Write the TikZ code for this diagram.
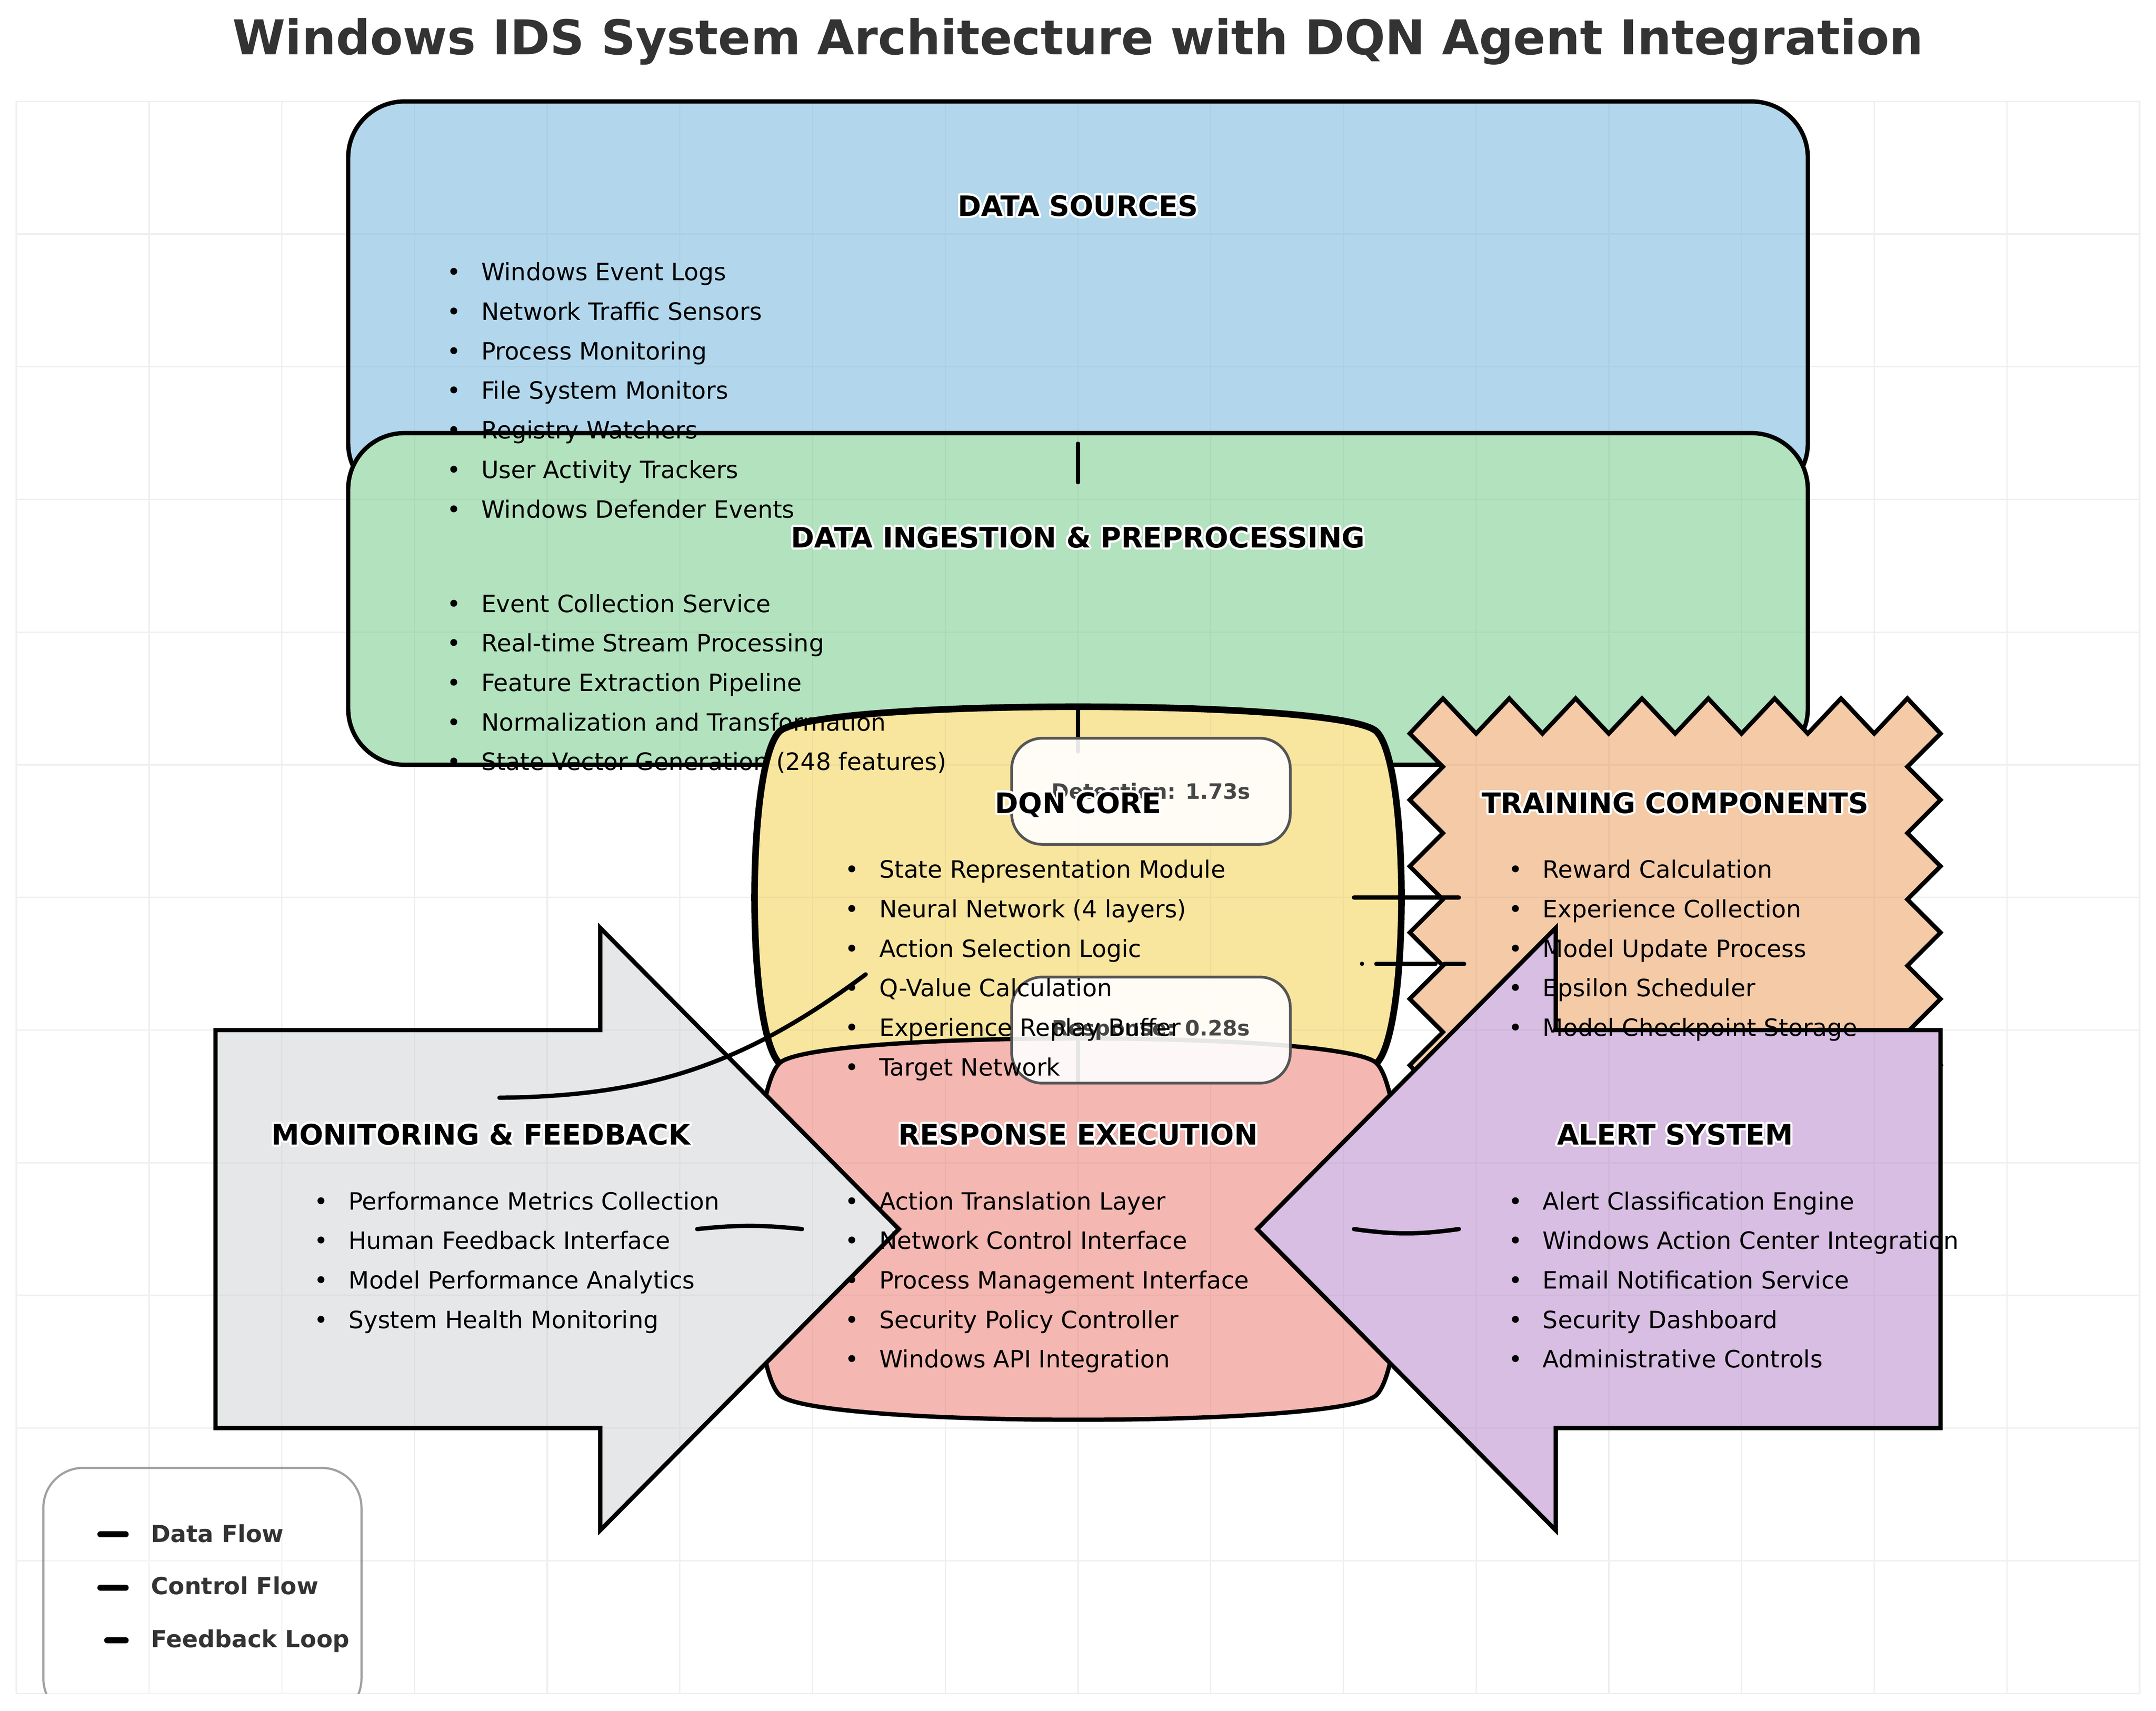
\documentclass[tikz,border=0pt]{standalone}
\usepackage{fontspec}
\setmainfont{DejaVu Sans}
\usepackage{contour}
\contourlength{1.2pt}
\contournumber{32}
\definecolor{dsblue}{HTML}{B2D7EC}
\definecolor{ingreen}{HTML}{B3E2BE}
\definecolor{coreyellow}{HTML}{F8E59E}
\definecolor{trainpeach}{HTML}{F4CAA7}
\definecolor{resppink}{HTML}{F4B7B1}
\definecolor{monigray}{HTML}{E6E7E9}
\definecolor{alertpurple}{HTML}{D7BEE2}
\definecolor{titlegray}{HTML}{333333}
\definecolor{labelgray}{HTML}{464646}
\definecolor{labeledge}{HTML}{555555}
\definecolor{legendedge}{HTML}{A0A0A0}
\newcommand{\itembul}{\llap{\makebox[30.4pt]{•}}}
\tikzset{gridline/.style={draw=black!3,line width=0.8pt}}
\tikzset{boxedge/.style={draw=black,line width=2.4pt}}
\tikzset{coreedge/.style={boxedge,line width=3.7pt}}
\tikzset{flow/.style={line width=2.4pt,line cap=round}}
\tikzset{heading/.style={font=\fontsize{15.7}{18}\selectfont\bfseries,anchor=base,inner sep=0pt}}
\tikzset{item/.style={font=\fontsize{13.3}{16}\selectfont,anchor=base west,inner sep=0pt}}
\tikzset{timebox/.style={draw=labeledge,line width=1.5pt,fill=white,fill opacity=0.9,text opacity=1,rounded corners=0.6cm,minimum width=5.46cm,minimum height=2.08cm,inner sep=0pt,font=\fontsize{11.8}{14}\selectfont\bfseries,text=labelgray}}
\tikzset{legendbox/.style={draw=legendedge,line width=1.2pt,fill=white,fill opacity=0.8,rounded corners=0.78cm}}
\tikzset{legendline/.style={line width=3.4pt,line cap=round}}
\tikzset{legendtext/.style={font=\fontsize{13.1}{16}\selectfont\bfseries,text=titlegray,anchor=base west,inner sep=0pt}}

\begin{document}
\begin{tikzpicture}[x=2.6cm,y=2.6cm]
\useasboundingbox (-0.124,-0.13) rectangle (16.124,12.765);
% background grid
\draw[gridline] (0,0) grid[step=1] (16,12);
% legend frame, cut at the bottom of the axes
\begin{scope}
  \clip (-0.124,0) rectangle (16.124,12.765);
  \draw[legendbox] (0.203,-0.19) rectangle (2.6,1.7);
\end{scope}

\node[font=\fontsize{26.7}{30}\selectfont\bfseries,text=titlegray,anchor=base,inner sep=0pt] (title) at (8,12.355) {Windows IDS System Architecture with DQN Agent Integration};

% components
\draw[boxedge,fill=dsblue,rounded corners=1.1cm] (2.5,9.0) rectangle (13.5,12);
\draw[boxedge,fill=ingreen,rounded corners=1.1cm] (2.5,7.0) rectangle (13.5,9.5);
\draw[coreedge,fill=coreyellow] (5.75,4.75) .. controls (6,4.5) and (10,4.5) .. (10.25,4.75)
  .. controls (10.5,5) and (10.5,7) .. (10.25,7.25) .. controls (10,7.5) and (6,7.5) .. (5.75,7.25)
  .. controls (5.5,7) and (5.5,5) .. (5.75,4.75) -- cycle;
\draw[boxedge,fill=trainpeach] (10.5,7.235)
  \foreach \k in {0,...,7}{ -- ({10.75+0.5*\k},7.5) -- ({11+0.5*\k},7.235)}
  \foreach \k in {0,...,4}{ -- (14.25,{6.985-0.5*\k}) -- (14.5,{6.735-0.5*\k})}
  \foreach \k in {0,...,7}{ -- ({14.25-0.5*\k},4.47) -- ({14-0.5*\k},4.735)}
  \foreach \k in {0,...,4}{ -- (10.75,{4.985+0.5*\k}) -- (10.5,{5.235+0.5*\k})} -- cycle;
\draw[boxedge,fill=resppink] (5.75,2.25) .. controls (6,2) and (10,2) .. (10.25,2.25)
  .. controls (10.5,2.5) and (10.5,4.5) .. (10.25,4.75) .. controls (10,5) and (6,5) .. (5.75,4.75)
  .. controls (5.5,4.5) and (5.5,2.5) .. (5.75,2.25) -- cycle;
\draw[boxedge,fill=monigray] (1.5,2) -- (4.4,2) -- (4.4,1.23) -- (6.65,3.5) -- (4.4,5.77) -- (4.4,5) -- (1.5,5) -- cycle;
\draw[boxedge,fill=alertpurple] (14.5,2) -- (11.6,2) -- (11.6,1.23) -- (9.35,3.5) -- (11.6,5.77) -- (11.6,5) -- (14.5,5) -- cycle;
% faint grid seen through the boxes
\draw[gridline,draw=black,opacity=0.03] (0,0) grid[step=1] (16,12);

% connector ends
\coordinate (ds-out) at (8,9.42);
\coordinate (ing-in) at (8,9.13);
\coordinate (ing-out) at (8,7.43);
\coordinate (core-in) at (8,7.1);
\coordinate (core-out) at (8,4.92);
\coordinate (resp-in) at (8,4.61);
\coordinate (core-tr) at (10.08,6.0);
\coordinate (tr-in) at (10.87,6.0);
\coordinate (core-fb) at (10.14,5.5);
\coordinate (tr-out) at (10.91,5.5);
\coordinate (mon-fb) at (3.64,4.49);
\coordinate (core-q) at (6.40,5.42);
\coordinate (mon-out) at (5.13,3.5);
\coordinate (resp-west) at (5.92,3.5);
\coordinate (resp-east) at (10.08,3.5);
\coordinate (alert-in) at (10.87,3.5);

\draw[flow] (ds-out) -- (ing-in);
\draw[flow] (ing-out) -- (core-in);
\draw[flow] (core-out) -- (resp-in);
\draw[flow] (core-tr) -- (tr-in);
\draw[flow,dash pattern=on 0pt off 8pt on 33pt off 5pt on 14pt off 20pt] (core-fb) -- (tr-out);
\draw[flow] (mon-fb) to[bend right=18] (core-q);
\draw[flow] (mon-out) to[bend left=6] (resp-west);
\draw[flow] (resp-east) to[bend right=8] (alert-in);

% timing labels
\node[timebox] (det-time) at (8.55,6.8) {Detection: 1.73s};
\node[timebox] (resp-time) at (8.55,5.0) {Response: 0.28s};

% texts
\node[heading] (ds-head) at (8,11.136) {\contour{white}{DATA SOURCES}};
\foreach \t [count=\i] in {Windows Event Logs, Network Traffic Sensors, Process Monitoring, File System Monitors, Registry Watchers, User Activity Trackers, Windows Defender Events}
  \node[item] (ds-\i) at (3.5,{10.948-0.298*\i}) {\itembul\t};

\node[heading] (ing-head) at (8,8.636) {\contour{white}{DATA INGESTION \& PREPROCESSING}};
\foreach \t [count=\i] in {Event Collection Service, Real-time Stream Processing, Feature Extraction Pipeline, Normalization and Transformation, State Vector Generation (248 features)}
  \node[item] (ing-\i) at (3.5,{8.448-0.298*\i}) {\itembul\t};

\node[heading] (core-head) at (8,6.636) {\contour{white}{DQN CORE}};
\foreach \t [count=\i] in {State Representation Module, Neural Network (4 layers), Action Selection Logic, Q-Value Calculation, Experience Replay Buffer, Target Network}
  \node[item] (core-\i) at (6.5,{6.444-0.298*\i}) {\itembul\t};

\node[heading] (tr-head) at (12.5,6.636) {\contour{white}{TRAINING COMPONENTS}};
\foreach \t [count=\i] in {Reward Calculation, Experience Collection, Model Update Process, Epsilon Scheduler, Model Checkpoint Storage}
  \node[item] (tr-\i) at (11.5,{6.444-0.298*\i}) {\itembul\t};

\node[heading] (mon-head) at (3.5,4.136) {\contour{white}{MONITORING \& FEEDBACK}};
\foreach \t [count=\i] in {Performance Metrics Collection, Human Feedback Interface, Model Performance Analytics, System Health Monitoring}
  \node[item] (mon-\i) at (2.5,{3.944-0.298*\i}) {\itembul\t};

\node[heading] (resp-head) at (8,4.136) {\contour{white}{RESPONSE EXECUTION}};
\foreach \t [count=\i] in {Action Translation Layer, Network Control Interface, Process Management Interface, Security Policy Controller, Windows API Integration}
  \node[item] (resp-\i) at (6.5,{3.944-0.298*\i}) {\itembul\t};

\node[heading] (alert-head) at (12.5,4.136) {\contour{white}{ALERT SYSTEM}};
\foreach \t [count=\i] in {Alert Classification Engine, Windows Action Center Integration, Email Notification Service, Security Dashboard, Administrative Controls}
  \node[item] (alert-\i) at (11.5,{3.944-0.298*\i}) {\itembul\t};

% legend
\coordinate (lg-data-a) at (0.633,1.199);
\coordinate (lg-data-b) at (0.823,1.199);
\coordinate (lg-ctrl-a) at (0.633,0.797);
\coordinate (lg-ctrl-b) at (0.823,0.797);
\coordinate (lg-fb-a) at (0.684,0.400);
\coordinate (lg-fb-b) at (0.823,0.400);
\draw[legendline] (lg-data-a) -- (lg-data-b);
\draw[legendline] (lg-ctrl-a) -- (lg-ctrl-b);
\draw[legendline] (lg-fb-a) -- (lg-fb-b);
\node[legendtext] (lg-data) at (1.013,1.141) {Data Flow};
\node[legendtext] (lg-ctrl) at (1.013,0.746) {Control Flow};
\node[legendtext] (lg-fb) at (1.013,0.348) {Feedback Loop};
\end{tikzpicture}
\end{document}
